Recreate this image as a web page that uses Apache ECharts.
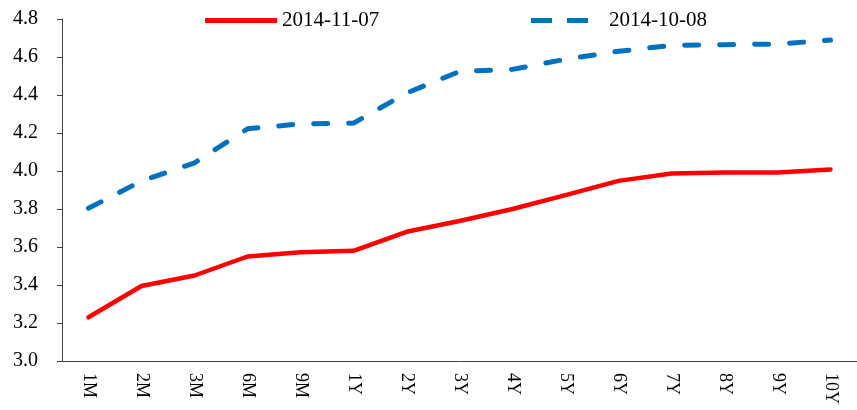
<!DOCTYPE html>
<html lang="zh">
<head>
    <meta charset="UTF-8">
    <title>收益率曲线</title>
    <style type="text/css">
        html, body { margin: 0; padding: 0; background: #fff; }
        #main { width: 857px; height: 410px; }
    </style>
</head>
<body>
<div id="main"></div>
<script type="text/javascript" src="https://cdn.jsdelivr.net/npm/echarts@6/dist/echarts.min.js"></script>
<script type="text/javascript">
    // 期限
    var terms = ['1M', '2M', '3M', '6M', '9M', '1Y', '2Y', '3Y', '4Y', '5Y', '6Y', '7Y', '8Y', '9Y', '10Y'];
    // 2014-11-07 收益率
    var curveNov = [3.23, 3.395, 3.45, 3.55, 3.572, 3.58, 3.68, 3.737, 3.80, 3.873, 3.948, 3.987, 3.992, 3.992, 4.008];
    // 2014-10-08 收益率
    var curveOct = [3.804, 3.947, 4.043, 4.222, 4.248, 4.252, 4.41, 4.524, 4.535, 4.588, 4.63, 4.661, 4.665, 4.668, 4.689];
    var seriesNames = ['2014-11-07', '2014-10-08'];

    var font = "'Liberation Serif', 'Times New Roman', serif";
    var myChart = echarts.init(document.getElementById('main'));
    var option = {
        animation: false,
        backgroundColor: '#fff',
        legend: [
            {
                // 实线图例
                data: [{ name: seriesNames[0], icon: 'path://M0,0H72V5H0Z' }],
                left: 205,
                top: 10,
                padding: 0,
                itemWidth: 72,
                itemHeight: 5,
                textStyle: { fontFamily: font, fontSize: 21, color: '#000' }
            },
            {
                // 虚线图例
                data: [{ name: seriesNames[1], icon: 'path://M0,0H21V5H0ZM36,0H57V5H36Z' }],
                left: 531,
                top: 10,
                padding: 0,
                itemWidth: 57,
                itemHeight: 5,
                textStyle: { fontFamily: font, fontSize: 21, color: '#000', padding: [0, 0, 0, 16] }
            }
        ],
        grid: {
            left: 62,
            right: -10,
            top: 19,
            bottom: 49
        },
        xAxis: {
            type: 'category',
            data: terms,
            axisLine: { lineStyle: { color: '#404040', width: 1 } },
            axisTick: { length: 5, lineStyle: { color: '#404040' } },
            axisLabel: {
                rotate: -90,
                margin: 12,
                fontFamily: font,
                fontSize: 18,
                color: '#000'
            }
        },
        yAxis: {
            type: 'value',
            min: 3.0,
            max: 4.8,
            interval: 0.2,
            splitLine: { show: false },
            axisLine: { show: true, lineStyle: { color: '#404040', width: 1 } },
            axisTick: { show: true, length: 5, lineStyle: { color: '#404040' } },
            axisLabel: {
                margin: 24,
                fontFamily: font,
                fontSize: 20,
                color: '#000',
                formatter: function (v) { return v.toFixed(1); }
            }
        },
        series: [
            {
                name: seriesNames[0],
                type: 'line',
                data: curveNov,
                symbol: 'none',
                lineStyle: { color: '#ff0000', width: 4.5, cap: 'round', join: 'round' },
                itemStyle: { color: '#ff0000' }
            },
            {
                name: seriesNames[1],
                type: 'line',
                data: curveOct,
                symbol: 'none',
                lineStyle: { color: '#0070c0', width: 5, type: [14, 21], cap: 'round', join: 'round' },
                itemStyle: { color: '#0070c0' }
            }
        ]
    };
    myChart.setOption(option);
</script>
</body>
</html>
